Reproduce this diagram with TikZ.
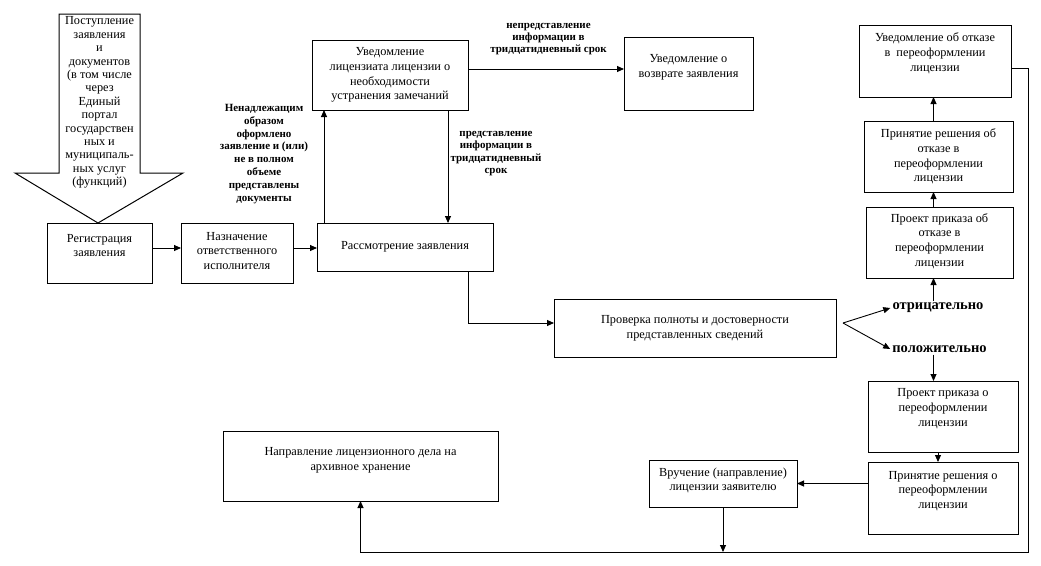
\documentclass[tikz,border=0pt]{standalone}
\usepackage{fontspec}
\setmainfont{Liberation Serif}
\usetikzlibrary{arrows.meta}
\newcommand{\bx}[4]{\parbox[c][#2pt][c]{#1pt}{\centering #4\par\vspace*{#3pt}}}
\tikzset{
  boxnode/.style={draw, line width=1pt, inner sep=0pt, outer sep=0pt,
    font=\fontsize{12.3}{14.8}\selectfont},
  lbl/.style={align=center, inner sep=1pt, font=\bfseries\fontsize{11}{12.4}\selectfont},
  biglbl/.style={inner sep=2pt, font=\bfseries\fontsize{14.5}{16}\selectfont},
  arr/.style={line width=0.9pt, -{Triangle[length=7pt,width=6pt]}},
  ln/.style={line width=0.9pt}
}
\begin{document}
\begin{tikzpicture}[x=1pt,y=-1pt]
\useasboundingbox (0,0) rectangle (1041,565);
% big incoming arrow
\draw[line width=1pt] (59,14) -- (140,14) -- (140,173) -- (183,173) -- (98,223) -- (15,173) -- (59,173) -- cycle;
\node[align=center, inner sep=0pt, font=\fontsize{12.3}{13.4}\selectfont] (src) at (99.5,102.5)
  {Поступление\\заявления\\и\\документов\\(в том числе\\через\\Единый\\портал\\государствен\\ных и\\муниципаль-\\ных услуг\\(функций)};
% boxes
\node[boxnode] (reg) at (99.5,253) {\bx{105}{60}{15}{Регистрация\\заявления}};
\node[boxnode] (nazn) at (237,253) {\bx{112}{60}{4}{Назначение\\ответственного\\исполнителя}};
\node[boxnode] (rass) at (405,247) {\bx{176}{48}{0}{Рассмотрение заявления}};
\node[boxnode] (uvl) at (390,75) {\bx{156}{70}{0}{Уведомление\\лицензиата лицензии о\\необходимости\\устранения замечаний}};
\node[boxnode] (vozv) at (688.5,73.5) {\bx{129}{73}{13}{Уведомление о\\возврате заявления}};
\node[boxnode] (uvotk) at (935,61) {\bx{152}{72}{16}{Уведомление об отказе\\в\ \ переоформлении\\лицензии}};
\node[boxnode] (prinotk) at (938.5,156.5) {\bx{149}{71}{0}{Принятие решения об\\отказе в\\переоформлении\\лицензии}};
\node[boxnode] (proekotk) at (939.5,242.5) {\bx{147}{71}{3}{Проект приказа об\\отказе в\\переоформлении\\лицензии}};
\node[boxnode] (prov) at (695,328) {\bx{282}{58}{0}{Проверка полноты и достоверности\\представленных сведений}};
\node[boxnode] (proekpos) at (943,416.5) {\bx{150}{71}{16}{Проект приказа о\\переоформлении\\лицензии}};
\node[boxnode] (prinpos) at (943,498) {\bx{150}{72}{14}{Принятие решения о\\переоформлении\\лицензии}};
\node[boxnode] (vruch) at (723,483.5) {\bx{148}{47}{6}{Вручение (направление)\\лицензии заявителю}};
\node[boxnode] (napr) at (360.5,466) {\bx{275}{70}{12}{Направление лицензионного дела на\\архивное хранение}};
% labels
\node[lbl, font=\bfseries\fontsize{11}{12.9}\selectfont] (nenadl) at (264,154) {Ненадлежащим\\образом\\оформлено\\заявление и (или)\\не в полном\\объеме\\представлены\\документы};
\node[lbl] (nepred) at (548.5,39) {непредставление\\информации в\\тридцатидневный срок};
\node[lbl] (pred) at (496,153.5) {представление\\информации в\\тридцатидневный\\срок};
\node[biglbl] (otr) at (938,308) {отрицательно};
\node[biglbl] (pol) at (939.5,349) {положительно};
% helper coordinates
\coordinate (xa) at (324,0);
\coordinate (xb) at (448,0);
\coordinate (yc) at (0,69);
\coordinate (yd) at (0,248);
\coordinate (xe) at (468,0);
\coordinate (yf) at (0,323);
\coordinate (ax) at (933.5,0);
\coordinate (fork) at (843,323);
\coordinate (r1) at (1028,68);
\coordinate (r2) at (1028,552);
% connectors
\draw[arr] (reg.east |- yd) -- (nazn.west |- yd);
\draw[arr] (nazn.east |- yd) -- (rass.west |- yd);
\draw[arr] (rass.north -| xa) -- (uvl.south -| xa);
\draw[arr] (uvl.south -| xb) -- (rass.north -| xb);
\draw[arr] (uvl.east |- yc) -- (vozv.west |- yc);
\draw[arr] (rass.south -| xe) |- (prov.west |- yf);
\draw[arr] (fork) -- (otr.west);
\draw[arr] (fork) -- (pol.west);
\draw[arr] (otr.north -| ax) -- (proekotk.south -| ax);
\draw[arr] (proekotk.north -| ax) -- (prinotk.south -| ax);
\draw[arr] (prinotk.north -| ax) -- (uvotk.south -| ax);
\draw[arr] (pol.south -| ax) -- (proekpos.north -| ax);
\draw[arr] ([xshift=-5pt]proekpos.south) -- ([xshift=-5pt]prinpos.north);
\draw[arr] (vruch.east -| prinpos.west) -- (vruch.east);
\draw[arr] (vruch.south) -- (vruch.south |- r2);
\draw[arr] (uvotk.east |- r1) -- (r1) -- (r2) -| (napr.south);
\end{tikzpicture}
\end{document}
